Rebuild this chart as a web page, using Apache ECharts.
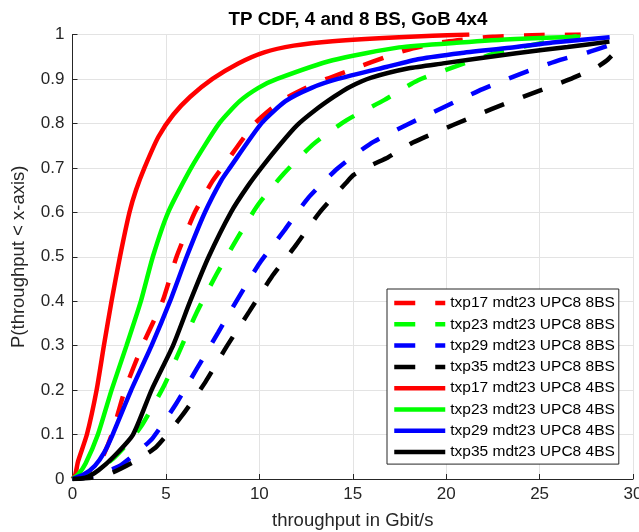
<!DOCTYPE html>
<html>
<head>
<meta charset="utf-8">
<script src="https://cdn.jsdelivr.net/npm/echarts@6/dist/echarts.min.js"></script>
<style>
html,body{margin:0;padding:0;background:#fff;}
#c{width:639px;height:532px;}
</style>
</head>
<body>
<div id="c"></div>
<script>
// ---- data (throughput Gbit/s, CDF) ----
var xTicks = [0, 5, 10, 15, 20, 25, 30];
var yTicks = ['0', '0.1', '0.2', '0.3', '0.4', '0.5', '0.6', '0.7', '0.8', '0.9', '1'];

var seriesNames = [
  'txp17 mdt23 UPC8 8BS', 'txp23 mdt23 UPC8 8BS', 'txp29 mdt23 UPC8 8BS', 'txp35 mdt23 UPC8 8BS',
  'txp17 mdt23 UPC8 4BS', 'txp23 mdt23 UPC8 4BS', 'txp29 mdt23 UPC8 4BS', 'txp35 mdt23 UPC8 4BS'
];

var red8 = [[0,0],[0.8,0.01],[1.5,0.04],[2.1,0.1],[2.8,0.2],[3.74,0.3],[4.82,0.4],[5.57,0.5],[6.55,0.6],[7.49,0.67],[8.18,0.71],[9.76,0.8],[11.15,0.85],[12.5,0.88],[13.6,0.9],[15.0,0.922],[17.0,0.953],[18.23,0.969],[20.0,0.984],[22.5,0.995],[25.0,0.999],[27.2,1.0]];
var green8 = [[0,0],[1.0,0.01],[2.15,0.045],[2.95,0.08],[3.7,0.12],[4.9,0.21],[5.75,0.29],[6.64,0.374],[7.7,0.46],[8.8,0.54],[9.93,0.617],[11.35,0.689],[12.94,0.755],[14.7,0.808],[16.7,0.853],[18.5,0.897],[20.7,0.931],[22.8,0.96],[25.0,0.98],[27.0,0.996]];
var blue8 = [[0,0],[1.0,0.005],[2.0,0.02],[2.55,0.03],[3.45,0.06],[4.27,0.091],[5.53,0.168],[6.64,0.247],[7.8,0.33],[8.87,0.407],[10.02,0.486],[11.35,0.56],[12.63,0.633],[14.2,0.699],[15.9,0.753],[17.9,0.797],[19.95,0.838],[21.95,0.877],[23.95,0.911],[26.1,0.943],[27.6,0.96],[28.75,0.976]];
var black8 = [[0,0],[1.0,0.003],[2.0,0.012],[2.63,0.024],[3.55,0.045],[4.5,0.073],[5.87,0.143],[7.11,0.218],[8.28,0.3],[9.45,0.376],[10.65,0.454],[11.94,0.525],[13.23,0.6],[14.66,0.667],[15.05,0.684],[16.0,0.706],[16.9,0.724],[18.22,0.757],[20.4,0.797],[22.42,0.832],[24.5,0.866],[26.6,0.899],[28.0,0.925],[28.55,0.94],[28.85,0.952]];

var red4 = [[0,0],[0.15,0.01],[0.3,0.04],[0.77,0.1],[1.29,0.2],[1.68,0.3],[2.09,0.4],[2.54,0.5],[3.05,0.6],[3.4,0.65],[3.85,0.7],[4.6,0.77],[5.4,0.82],[6.3,0.86],[7.49,0.9],[8.87,0.935],[10.26,0.96],[11.84,0.975],[13.92,0.985],[17.48,0.994],[21.24,1.0]];
var green4 = [[0,0],[0.3,0.01],[0.7,0.035],[1.36,0.1],[2.09,0.2],[2.89,0.3],[3.66,0.4],[4.3,0.5],[5.12,0.6],[6.35,0.7],[7.85,0.8],[8.95,0.85],[9.95,0.88],[10.95,0.9],[13.92,0.942],[17.48,0.971],[20.74,0.982],[23.71,0.99],[27.17,0.995]];
var blue4 = [[0,0],[0.6,0.01],[1.2,0.03],[1.7,0.06],[2.15,0.1],[3.14,0.2],[4.23,0.3],[5.22,0.4],[6.11,0.5],[7.09,0.6],[7.98,0.673],[8.42,0.7],[10.11,0.8],[11.4,0.85],[12.8,0.88],[14.2,0.9],[16.79,0.927],[18.57,0.945],[20.74,0.958],[23.41,0.97],[25.69,0.982],[28.75,0.994]];
var black4 = [[0,0],[0.7,0.003],[1.4,0.02],[2.2,0.05],[3.24,0.1],[4.23,0.2],[5.38,0.3],[6.3,0.4],[7.29,0.5],[8.48,0.6],[9.4,0.66],[10.2,0.705],[11.1,0.752],[12.0,0.795],[13.0,0.83],[14.0,0.86],[14.84,0.882],[16.0,0.903],[18.0,0.924],[19.83,0.935],[23.75,0.958],[26.5,0.972],[28.74,0.984]];

var seriesData = [red8, green8, blue8, black8, red4, green4, blue4, black4];
var seriesColors = ['#ff0000', '#00ff00', '#0000ff', '#000000', '#ff0000', '#00ff00', '#0000ff', '#000000'];
var seriesDashed = [true, true, true, true, false, false, false, false];

// ---- chart ----
var FONT = 'Liberation Sans, Arial, Helvetica, sans-serif';
var chart = echarts.init(document.getElementById('c'), null, {renderer: 'canvas'});

var series = seriesNames.map(function (name, i) {
  return {
    name: name,
    type: 'line',
    data: seriesData[i],
    showSymbol: false,
    symbol: 'none',
    smooth: 0.2,
    animation: false,
    z: 2 + i,
    lineStyle: {
      color: seriesColors[i],
      width: 4.5,
      type: seriesDashed[i] ? [21, 20] : 'solid',
      cap: 'butt'
    },
    itemStyle: {color: seriesColors[i]}
  };
});

chart.setOption({
  animation: false,
  backgroundColor: '#ffffff',
  title: {
    text: 'TP CDF, 4 and 8 BS, GoB 4x4',
    left: 353,
    textAlign: 'center',
    top: 5,
    textStyle: {fontFamily: FONT, fontSize: 18.8, fontWeight: 'bold', color: '#000'}
  },
  grid: {left: 72.5, right: 6, top: 34.5, bottom: 53, containLabel: false, outerBoundsMode: 'none'},
  xAxis: {
    type: 'value',
    min: xTicks[0], max: xTicks[xTicks.length - 1], interval: 5,
    name: 'throughput in Gbit/s',
    nameLocation: 'middle',
    nameGap: 32,
    nameTextStyle: {fontFamily: FONT, fontSize: 18.5, color: '#262626'},
    axisLine: {show: true, lineStyle: {color: '#262626', width: 1}},
    axisTick: {show: true, inside: true, length: 5, lineStyle: {color: '#262626'}},
    axisLabel: {margin: 7, fontFamily: FONT, fontSize: 17, color: '#262626',
      formatter: function (v) { return xTicks.indexOf(v) >= 0 ? String(v) : ''; }},
    splitLine: {show: true, lineStyle: {color: '#e3e3e3', width: 1}}
  },
  yAxis: {
    type: 'value',
    min: 0, max: 1, interval: 0.1,
    name: 'P(throughput < x-axis)',
    nameLocation: 'middle',
    nameGap: 44,
    nameRotate: 90,
    nameTextStyle: {fontFamily: FONT, fontSize: 18.5, color: '#262626'},
    axisLine: {show: true, lineStyle: {color: '#262626', width: 1}},
    axisTick: {show: true, inside: true, length: 5, lineStyle: {color: '#262626'}},
    axisLabel: {margin: 8, fontFamily: FONT, fontSize: 17, color: '#262626',
      formatter: function (v) { return yTicks[Math.round(v * 10)]; }},
    splitLine: {show: true, lineStyle: {color: '#e3e3e3', width: 1}}
  },
  legend: {
    orient: 'vertical',
    left: 387,
    top: 289,
    padding: [6, 4, 4, 5],
    itemGap: 5.3,
    itemWidth: 51,
    itemHeight: 14,
    backgroundColor: '#ffffff',
    borderColor: '#262626',
    borderWidth: 1,
    textStyle: {fontFamily: FONT, fontSize: 15.5, color: '#000'},
    itemStyle: {opacity: 0},
    lineStyle: {width: 4.5},
    data: seriesNames
  },
  series: series
});
</script>
</body>
</html>
